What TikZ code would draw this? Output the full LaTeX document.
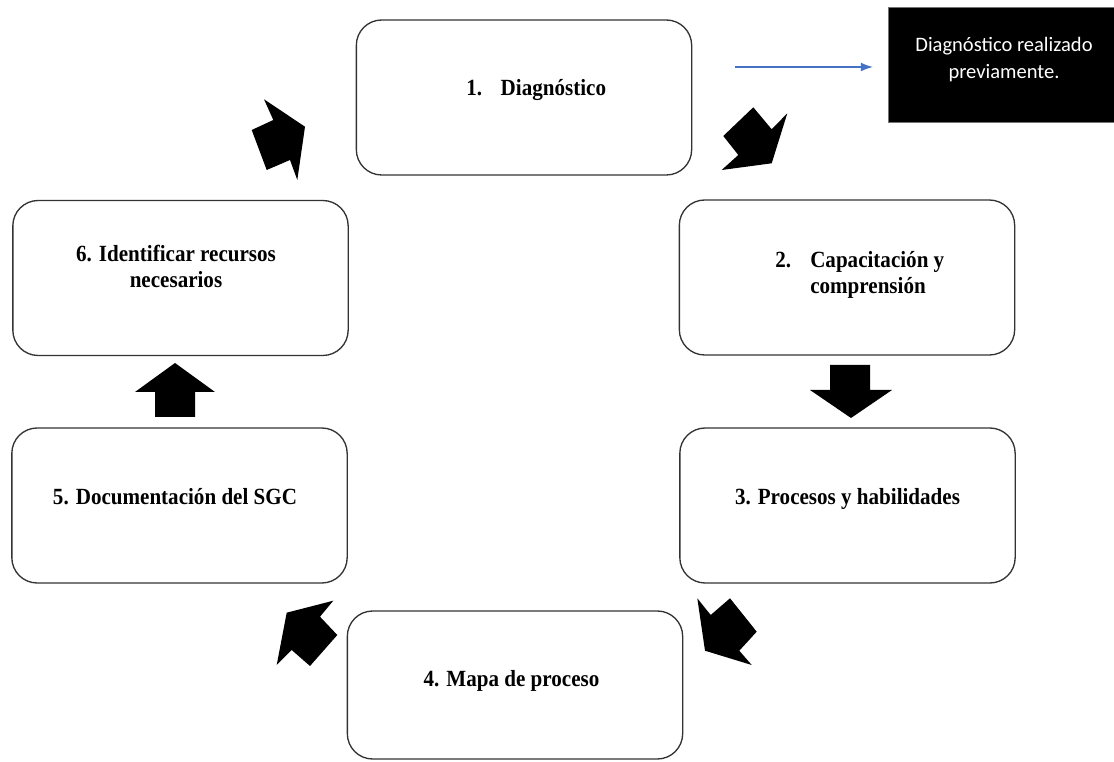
\documentclass[tikz,border=0pt]{standalone}
\usepackage{fontspec}
\usetikzlibrary{arrows.meta}
\setmainfont{Liberation Serif}
\newfontfamily\notefont{Carlito}
\begin{document}
\begin{tikzpicture}[x=0.75pt,y=-0.75pt,
  stage/.style={draw=black!80, line width=1pt, rounded corners=19pt,
    minimum width=251.5pt, minimum height=116.25pt, inner sep=0pt},
  stagetext/.style={font=\fontsize{15.8}{18}\selectfont\bfseries,
    inner sep=0pt, yscale=1.1},
  notetext/.style={font=\notefont\fontsize{15.4}{20}\selectfont,
    text=white, inner sep=0pt},
  bigarrow/.style={fill=black},
  pointer/.style={draw={rgb,255:red,68;green,114;blue,196}, line width=0.8pt,
    -{Latex[length=9pt,width=6.5pt]}}
]
\useasboundingbox (0,0) rectangle (1114,762);

% the six stages of the cycle
\node[stage] (s1) at (524,97.5) {};
\node[stage] (s2) at (847,277.5) {};
\node[stage] (s3) at (847.5,505.5) {};
\node[stage, minimum height=111pt] (s4) at (515,685) {};
\node[stage] (s5) at (179.5,505.5) {};
\node[stage] (s6) at (180.5,278) {};

% stage titles
\node[stagetext, anchor=base west] (t1) at (466,96) {1.\hspace{14pt}Diagnóstico};
\node[stagetext, anchor=base west] (t2n) at (775,268) {2.};
\node[stagetext, anchor=base west] (t2a) at (810,268) {Capacitación y};
\node[stagetext, anchor=base west] (t2b) at (810,294) {comprensión};
\node[stagetext, anchor=base] (t3) at (847.5,505) {3. Procesos y habilidades};
\node[stagetext, anchor=base] (t4) at (511.5,686) {4. Mapa de proceso};
\node[stagetext, anchor=base] (t5) at (175,505) {5. Documentación del SGC};
\node[stagetext, anchor=base] (t6a) at (176,262) {6. Identificar recursos};
\node[stagetext, anchor=base] (t6b) at (176,288) {necesarios};

% side note
\node[fill=black, draw=black!55, line width=0.6pt, inner sep=0pt,
  minimum width=169.5pt, minimum height=86.25pt] (note) at (1001,64.5) {};
\node[notetext, anchor=base] (n1) at (1004,52) {Diagnóstico realizado};
\node[notetext, anchor=base] (n2) at (1004,79) {previamente.};
\coordinate (pstart) at (735,67);
\draw[pointer, shorten >=11pt] (pstart) -- (note.west |- pstart);

% block arrows between stages
\fill[bigarrow] (753.3,107.3) -- (771.7,129.3) -- (787.3,113.3) -- (771.7,163.3)
  -- (721.7,170) -- (738.3,155) -- (723.3,136) -- cycle;
\fill[bigarrow] (851,418) -- (892,390) -- (870,390) -- (870,365) -- (830,365)
  -- (830,390) -- (810,390) -- cycle;
\fill[bigarrow] (697.3,598.3) -- (710.7,615) -- (730,598.3) -- (756.7,631.7)
  -- (739.3,650.7) -- (751.7,665) -- (705,650.7) -- cycle;
\fill[bigarrow] (333.3,600.7) -- (320,616.7) -- (337.3,635) -- (310,666)
  -- (291.7,650) -- (276.7,665) -- (286.7,612.7) -- cycle;
\fill[bigarrow] (175,363) -- (215,392) -- (195,392) -- (195,417) -- (155,417)
  -- (155,392) -- (135,392) -- cycle;
\fill[bigarrow] (264,99.3) -- (273.3,120) -- (251.7,130) -- (266.7,170)
  -- (290,160) -- (297.3,180) -- (305,126.7) -- cycle;
\end{tikzpicture}
\end{document}
